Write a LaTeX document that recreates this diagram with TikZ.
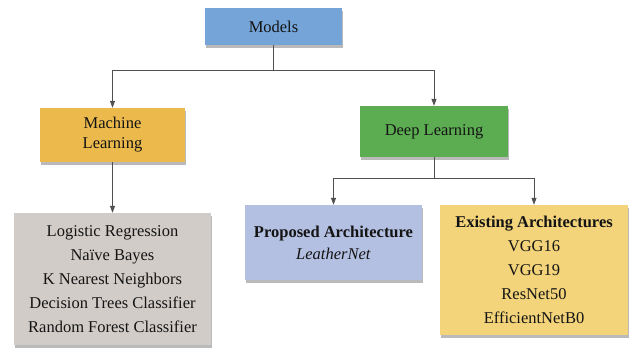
\documentclass[tikz,border=0pt]{standalone}
\usepackage{fontspec}
\setmainfont{Liberation Serif}
\usetikzlibrary{shadows,arrows.meta}
\definecolor{cmodels}{RGB}{116,164,216}
\definecolor{cml}{RGB}{236,186,76}
\definecolor{cdl}{RGB}{92,172,82}
\definecolor{cgrey}{RGB}{210,204,200}
\definecolor{cprop}{RGB}{180,192,226}
\definecolor{cexist}{RGB}{243,212,122}
\definecolor{cline}{RGB}{80,80,80}
\tikzset{
  box/.style={draw=none, inner sep=0pt, align=center, text=black!92,
    font=\fontsize{16.5}{24}\selectfont,
    drop shadow={shadow xshift=1pt, shadow yshift=-3pt, opacity=0.45, fill=black!60}},
  conn/.style={draw=cline, line width=0.8pt},
  arr/.style={conn, -{Triangle[length=7pt,width=5pt]}}
}
\begin{document}
\begin{tikzpicture}[x=1pt,y=-1pt]
\useasboundingbox[fill=white] (0,0) rectangle (634,348);
\node[box, fill=cmodels, minimum width=137pt, minimum height=37pt] (models) at (273.5,26.5) {Models};
\node[box, fill=cml, minimum width=145pt, minimum height=54pt, font=\fontsize{16.5}{20}\selectfont] (ml) at (112.5,135) {Machine\\Learning};
\node[box, fill=cdl, minimum width=148pt, minimum height=51pt] (dl) at (434,131.5) {Deep Learning};
\node[box, fill=cgrey, minimum width=197pt, minimum height=132pt] (grey) at (112.5,279) {Logistic Regression\\Naïve Bayes\\K Nearest Neighbors\\Decision Trees Classifier\\Random Forest Classifier};
\node[box, fill=cprop, minimum width=177pt, minimum height=75pt, font=\fontsize{16.5}{22}\selectfont] (prop) at (333.5,242.5) {\textbf{Proposed Architecture}\\\textit{LeatherNet}};
\node[box, fill=cexist, minimum width=188pt, minimum height=130pt] (exist) at (534,270) {\textbf{Existing Architectures}\\VGG16\\VGG19\\ResNet50\\EfficientNetB0};
\coordinate (j1) at (273.5,70);
\coordinate (j2) at (434,178);
\draw[conn] (models.south) -- (j1);
\draw[arr] (j1) -| (ml.north);
\draw[arr] (j1) -| (dl.north);
\draw[arr] (ml.south) -- (grey.north);
\draw[conn] (dl.south) -- (j2);
\draw[arr] (j2) -| (prop.north);
\draw[arr] (j2) -| (exist.north);
\end{tikzpicture}
\end{document}
